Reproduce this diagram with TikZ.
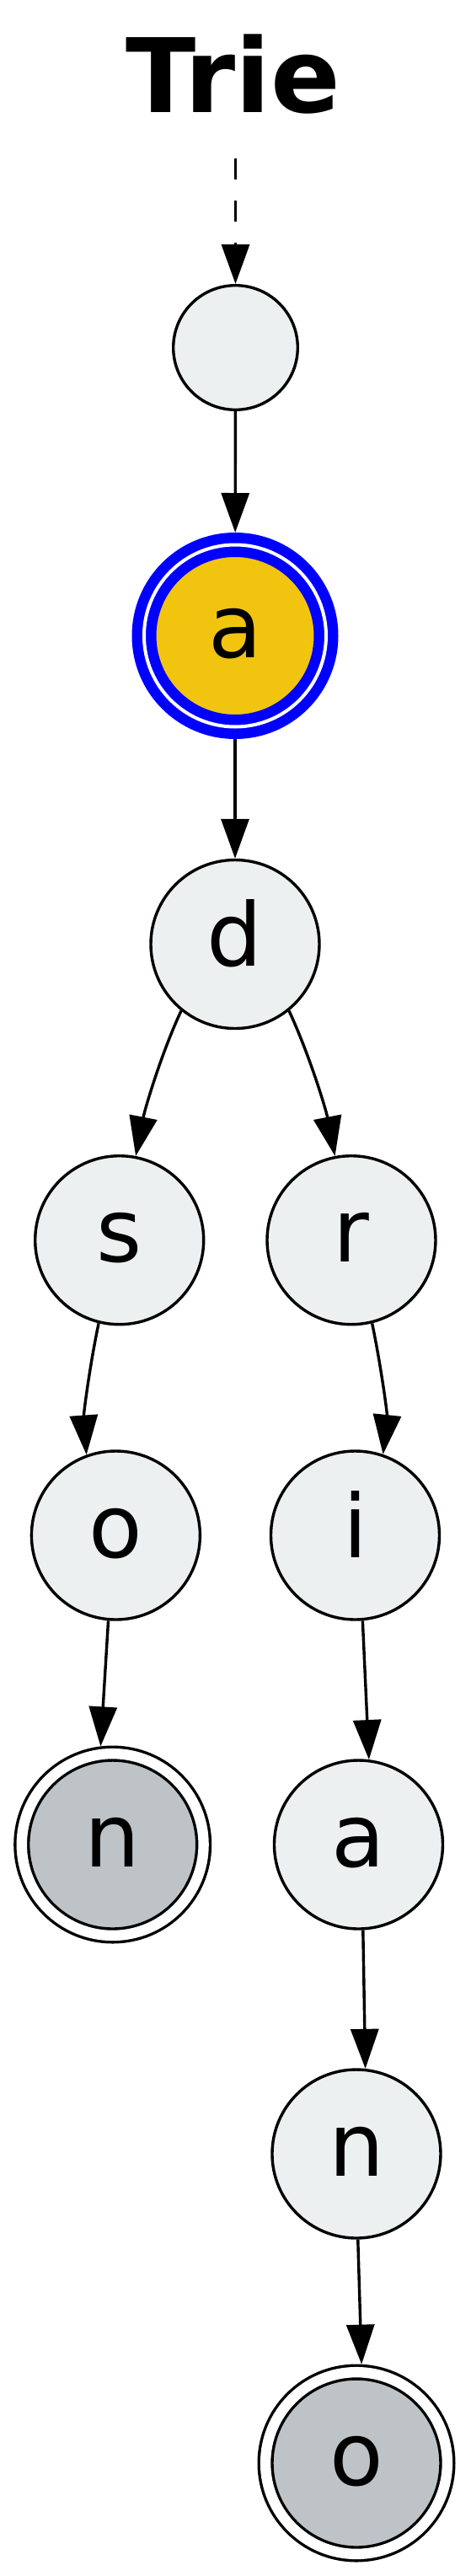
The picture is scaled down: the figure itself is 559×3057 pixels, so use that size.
\documentclass[tikz,border=0pt]{standalone}
\usepackage{fontspec}
\setmainfont{DejaVu Sans}
\usetikzlibrary{arrows.meta}
\definecolor{nodefill}{HTML}{ECF0F1}
\definecolor{endfill}{HTML}{BDC3C7}
\definecolor{curfill}{HTML}{F1C40F}
\begin{document}
\begin{tikzpicture}[x=1pt,y=1pt,line width=3.4pt,>={Triangle[length=47pt,width=33pt]},
  st/.style={circle,draw,fill=nodefill,minimum size=200pt,inner sep=0pt,outer sep=1.7pt,text height=52pt,text depth=0pt,font=\fontsize{104}{110}\selectfont},
  fin/.style={st,fill=endfill,minimum size=215.8pt,double=white,double distance=12.4pt,outer sep=9.6pt},
  cur/.style={st,fill=curfill,draw=blue,minimum size=216pt,line width=12.5pt,double=white,double distance=4pt,outer sep=14.5pt}]
\useasboundingbox (0,0) rectangle (559,-3057);
\node[font=\fontsize{122}{130}\selectfont\bfseries,anchor=base] (title) at (277,-133) {Trie};
\coordinate (start) at (279.5,-188);
% trie nodes
\node[st,minimum size=147.6pt] (root) at (279.5,-412.5) {};
\node[cur] (a) at (279,-754.5) {a};
\node[st] (ad) at (279,-1120.5) {d};
\node[st] (ads) at (141.7,-1471.7) {s};
\node[st] (adr) at (417,-1471.7) {r};
\node[st] (adso) at (137.4,-1822) {o};
\node[st] (adri) at (421.5,-1822) {i};
\node[fin] (adson) at (133.7,-2189) {n};
\node[st] (adria) at (425.5,-2189) {a};
\node[st] (adrian) at (423,-2556) {n};
\node[fin] (adriano) at (423,-2923) {o};
% edges
\draw[->,dash pattern=on 25pt off 25pt] (start) -- (root);
\foreach \u/\v in {root/a,a/ad} {\draw[->] (\u) -- (\v);}
\draw[->] (ad.231) to[out=245,in=79,looseness=0.8] (ads.79);
\draw[->] (ad.309) to[out=295,in=101,looseness=0.8] (adr.101);
\draw[->] (ads.256) to[out=258,in=94,looseness=0.8] (adso.110);
\draw[->] (adr.284) to[out=282,in=84,looseness=0.8] (adri.71);
\foreach \u/\i/\v/\j in {adso/265/adson/97,adri/275/adria/83,adria/273/adrian/84,adrian/271/adriano/87} {\draw[->] (\u.\i) -- (\v.\j);}
\end{tikzpicture}
\end{document}
